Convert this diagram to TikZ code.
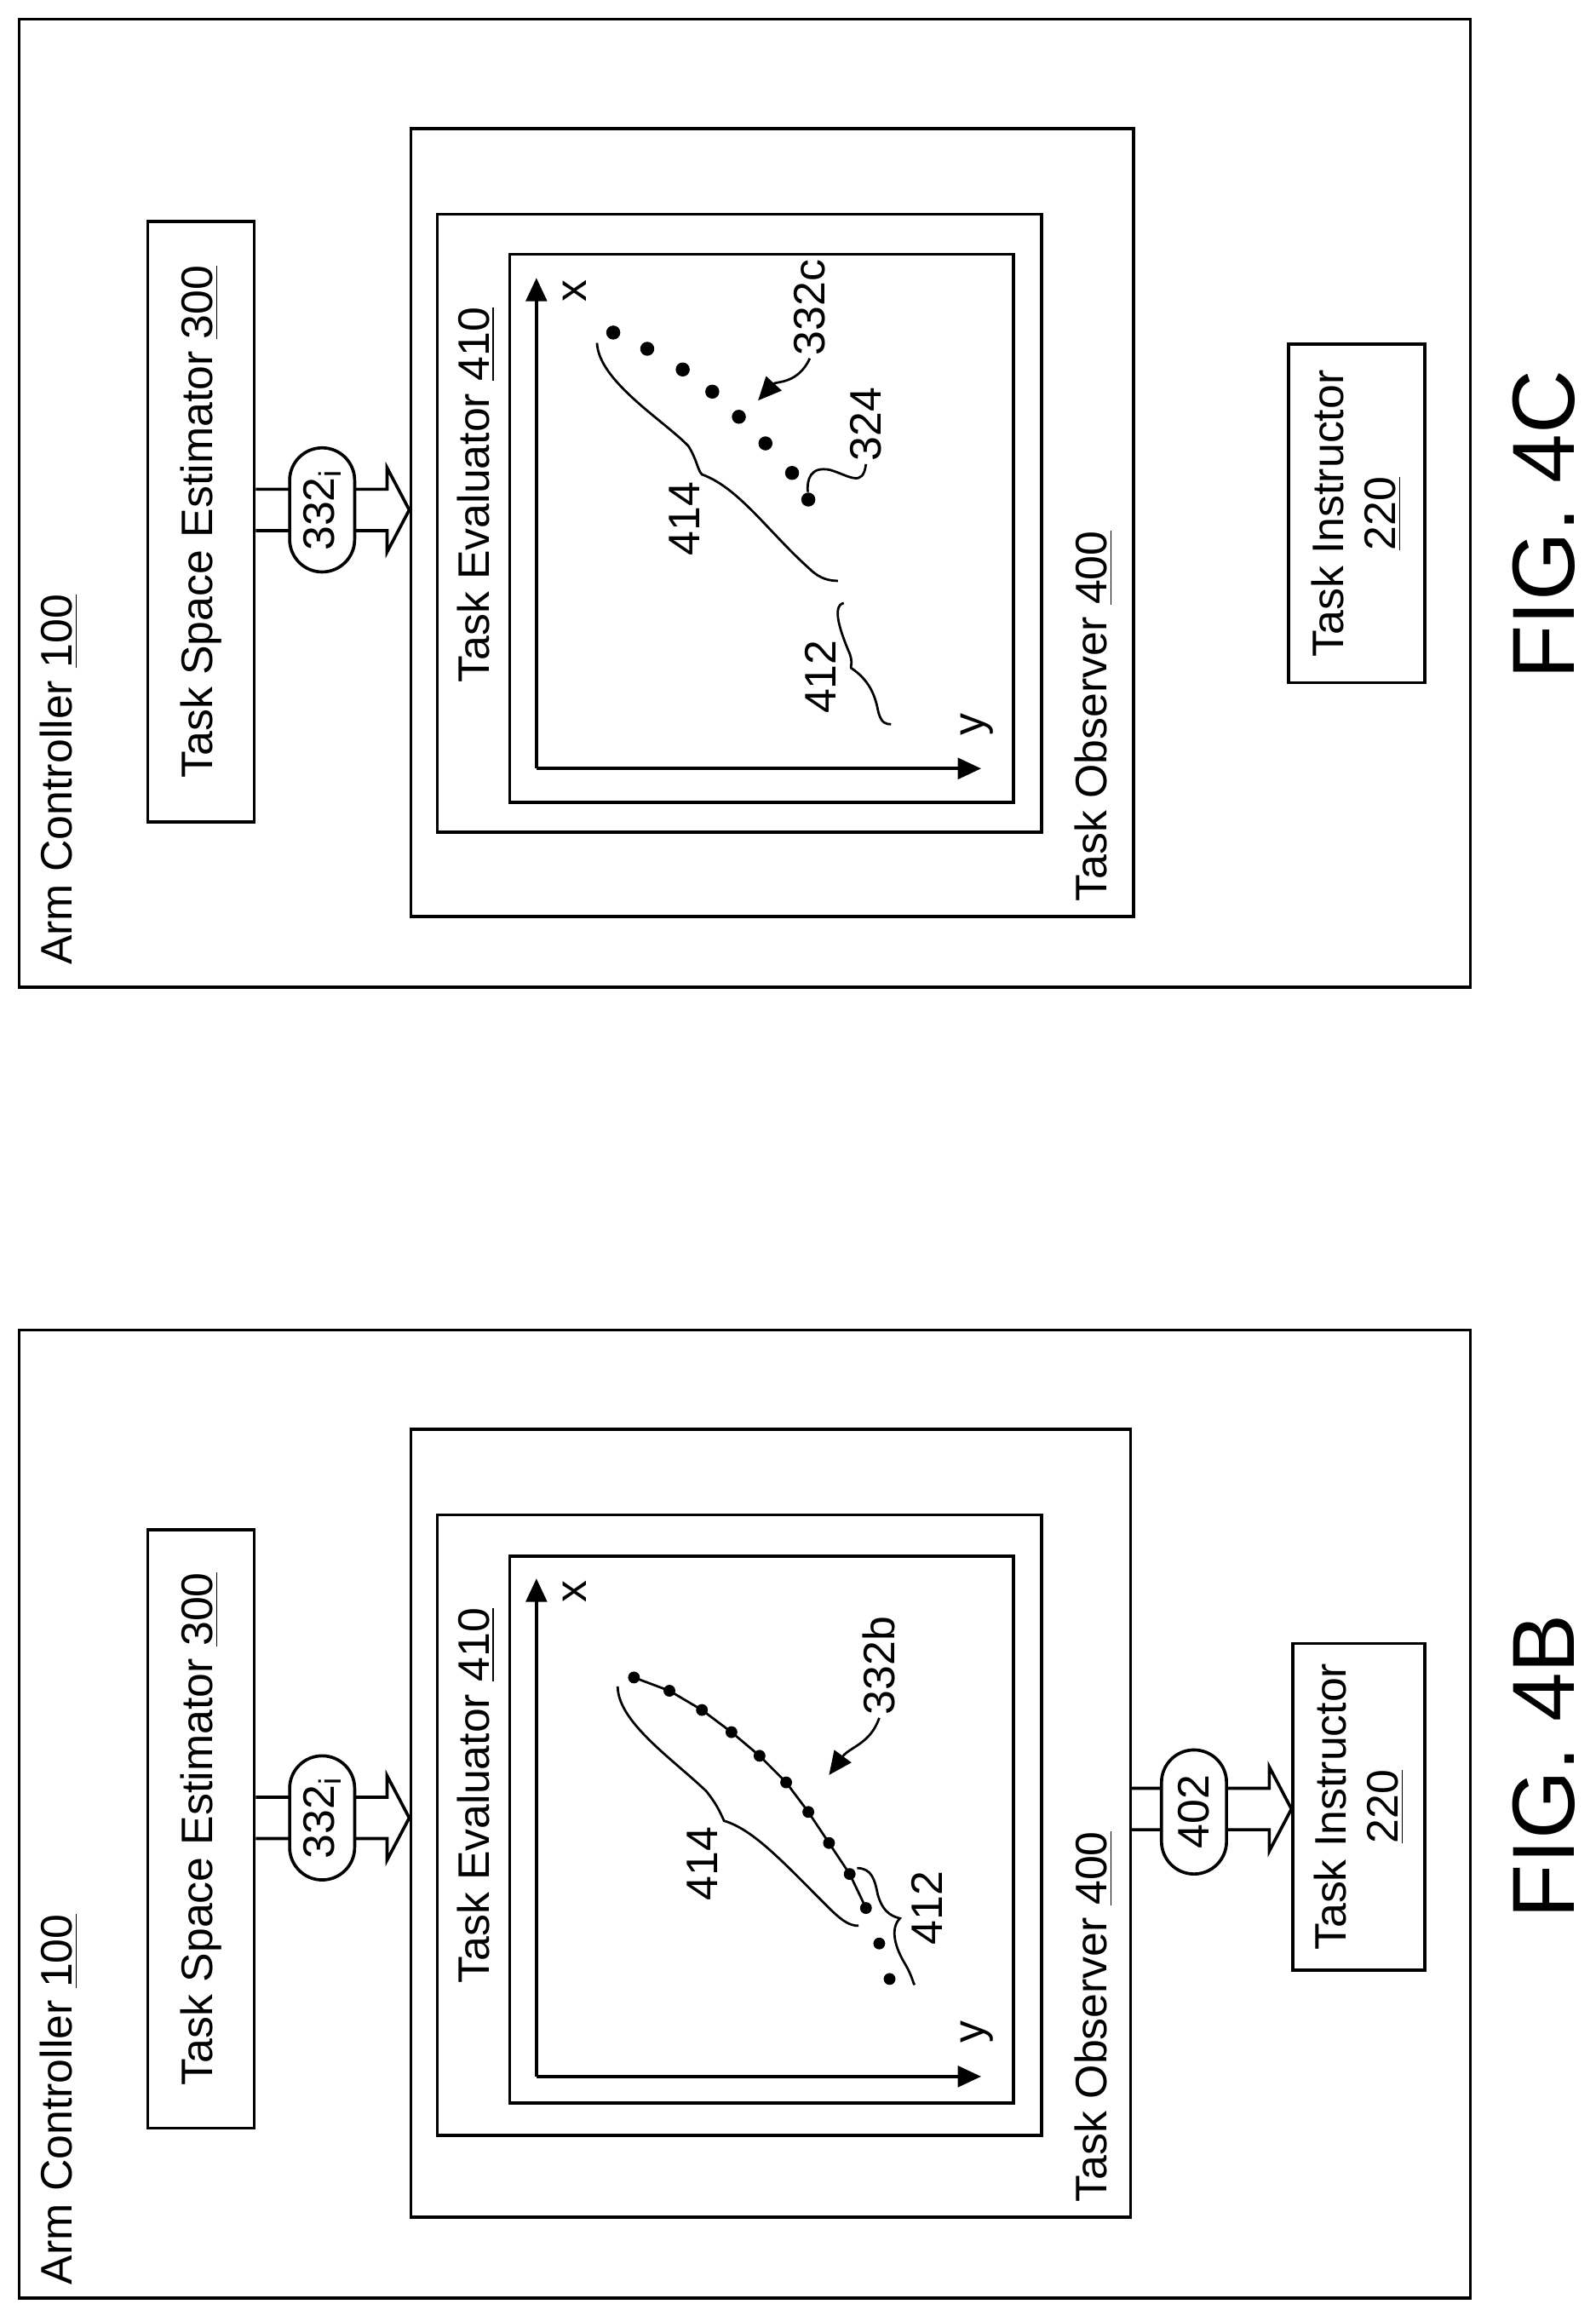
\documentclass[tikz,border=0pt]{standalone}
\usepackage{fontspec}
\setmainfont{Liberation Sans}
\usetikzlibrary{arrows.meta,positioning,calc,shapes.misc,fit}
\tikzset{
  >=Triangle,
  every node/.append style={font=\fontsize{17}{20}\selectfont},
  box/.style={draw, line width=1.2pt, inner sep=0pt},
  vlabel/.style={rotate=90, inner sep=1pt},
  pill/.style={draw, line width=1.2pt, fill=white, rounded rectangle, rotate=90,
    minimum width=1.75cm, minimum height=0.88cm, inner sep=1pt},
  axis/.style={line width=1.4pt, -{Triangle[length=9pt,width=8pt]}},
  lead/.style={line width=0.9pt},
  dot/.style={circle, fill=black, inner sep=0pt, minimum size=0.19cm},
  fig/.style={rotate=90, font=\fontsize{34}{40}\selectfont}
}
% hollow block arrow between two points
\newcommand{\blockarrow}[2]{%
  \draw[line width=1.2pt] ($(#1)+(0,-14)$) -- ($(#2)+(-15,-14)$) -- ($(#2)+(-15,-28.5)$)
    -- (#2) -- ($(#2)+(-15,28.5)$) -- ($(#2)+(-15,14)$) -- ($(#1)+(0,14)$);}

\begin{document}
\begin{tikzpicture}[x=0.02cm, y=-0.02cm]
\useasboundingbox (0,0) rectangle (1080,1563);

%% ---------- FIG. 4C (top) ----------
\node[box, fit={(13,13)(995,668)}] (arm4c) {};
\node[vlabel, anchor=west] (armlbl4c) at (40,655) {Arm Controller \underline{100}};
\node[box, fit={(100,150)(172,556)}] (tse4c) {};
\node[vlabel] (tselbl4c) at (tse4c.center) {Task Space Estimator \underline{300}};
\node[box, fit={(278,87)(767,620)}] (obs4c) {};
\node[vlabel, anchor=west] (obslbl4c) at (740,612) {Task Observer \underline{400}};
\node[box, fit={(296,145)(705,563)}] (eval4c) {};
\node[vlabel] (evallbl4c) at (322,335) {Task Evaluator \underline{410}};
\node[box, fit={(345,172)(686,543)}] (plot4c) {};
\node[box, fit={(872,233)(964,462)}] (ti4c) {};
\node[vlabel, align=center] (tilbl4c) at (ti4c.center) {Task Instructor\\\underline{220}};
\node[fig] (fig4c) at (1045,355) {FIG. 4C};

% 332i into the observer
\coordinate (a4c) at (tse4c.east |- 0,345);
\coordinate (b4c) at (obs4c.west |- 0,345);
\blockarrow{a4c}{b4c}
\node[pill] (p4c) at (218,345) {332\textsubscript{i}};

% axes
\coordinate (o4c) at (363,520);
\coordinate (xa4c) at (363,188);
\coordinate (ya4c) at (664,520);
\draw[axis] (o4c) -- (xa4c);
\draw[axis] (o4c) -- (ya4c);
\node[vlabel] (xl4c) at (389,197) {x};
\node[vlabel] (yl4c) at (661,490) {y};

% samples
\foreach \px/\py [count=\i] in {415/225,438/236,462/250,482/265,500/282,518/300,536/320,547/338}
  \node[dot] (d4c\i) at (\px,\py) {};

% braces
\draw[lead] (404,232) .. controls (405,258) and (450,285) .. (466,302)
  .. controls (472,312) and (472,318) .. (475,321)
  .. controls (500,330) and (520,360) .. (548,385) .. controls (555,392) and (562,393) .. (567,393);
\node[vlabel] (l414c) at (463,351) {414};
\draw[lead] (571,408) .. controls (562,410) and (570,430) .. (574,440)
  .. controls (578,448) and (575,452) .. (576,452)
  .. controls (588,460) and (592,470) .. (594,480) .. controls (596,490) and (600,490) .. (603,490);
\node[vlabel] (l412c) at (555,458) {412};

% 332c, 324
\node[vlabel] (l332c) at (548,208) {332c};
\draw[lead, ->, >={Triangle[length=9pt,width=8pt]}] (l332c.west) .. controls (540,260) and (525,258) .. (513,271);
\node[vlabel] (l324) at (586,287) {324};
\draw[lead] (l324.west) .. controls (584,330) and (575,322) .. (562,318) .. controls (548,315) and (546,325) .. (d4c8);

%% ---------- FIG. 4B (bottom) ----------
\node[box, fit={(13,900)(995,1555)}] (arm4b) {};
\node[vlabel, anchor=west] (armlbl4b) at (40,1548) {Arm Controller \underline{100}};
\node[box, fit={(100,1035)(172,1440)}] (tse4b) {};
\node[vlabel] (tselbl4b) at (tse4b.center) {Task Space Estimator \underline{300}};
\node[box, fit={(278,967)(765,1500)}] (obs4b) {};
\node[vlabel, anchor=west] (obslbl4b) at (740,1492) {Task Observer \underline{400}};
\node[box, fit={(296,1025)(705,1445)}] (eval4b) {};
\node[vlabel] (evallbl4b) at (322,1215) {Task Evaluator \underline{410}};
\node[box, fit={(345,1053)(686,1423)}] (plot4b) {};
\node[box, fit={(875,1112)(964,1333)}] (ti4b) {};
\node[vlabel, align=center] (tilbl4b) at (ti4b.center) {Task Instructor\\\underline{220}};
\node[fig] (fig4b) at (1045,1195) {FIG. 4B};

% 332i into the observer, 402 out to the instructor
\coordinate (a4b) at (tse4b.east |- 0,1230);
\coordinate (b4b) at (obs4b.west |- 0,1230);
\blockarrow{a4b}{b4b}
\node[pill] (p4b) at (218,1230) {332\textsubscript{i}};
\coordinate (c4b) at (obs4b.east |- 0,1224);
\coordinate (e4b) at (ti4b.west |- 0,1224);
\blockarrow{c4b}{e4b}
\node[pill] (p402) at (808,1226) {402};

% axes
\coordinate (o4b) at (363,1405);
\coordinate (xa4b) at (363,1068);
\coordinate (ya4b) at (664,1405);
\draw[axis] (o4b) -- (xa4b);
\draw[axis] (o4b) -- (ya4b);
\node[vlabel] (xl4b) at (389,1077) {x};
\node[vlabel] (yl4b) at (661,1375) {y};

% samples and fitted path
\foreach \px/\py [count=\i] in {429/1135,453/1144,475/1157,495/1172,514/1188,532/1206,547/1226,561/1247,575/1268,586/1291,595/1315,602/1339}
  \node[dot, minimum size=0.16cm] (d4b\i) at (\px,\py) {};
\draw[lead] (d4b1.center) -- (d4b2.center) -- (d4b3.center) -- (d4b4.center) -- (d4b5.center)
  -- (d4b6.center) -- (d4b7.center) -- (d4b8.center) -- (d4b9.center) -- (d4b10.center);

% braces
\draw[lead] (418,1141) .. controls (418,1165) and (455,1190) .. (478,1212)
  .. controls (486,1222) and (488,1228) .. (490,1232)
  .. controls (510,1238) and (530,1260) .. (560,1290) .. controls (570,1300) and (575,1303) .. (581,1303);
\node[vlabel] (l414b) at (475,1261) {414};
\draw[lead] (580,1264) .. controls (590,1264) and (592,1272) .. (594,1282)
  .. controls (598,1296) and (606,1297) .. (609,1298)
  .. controls (602,1305) and (606,1318) .. (612,1328) .. controls (618,1338) and (618,1343) .. (619,1343);
\node[vlabel] (l412b) at (627,1291) {412};

% 332b
\node[vlabel] (l332b) at (595,1127) {332b};
\draw[lead, ->, >={Triangle[length=9pt,width=8pt]}] (l332b.west) .. controls (589,1180) and (575,1182) .. (561,1201);
\end{tikzpicture}
\end{document}
